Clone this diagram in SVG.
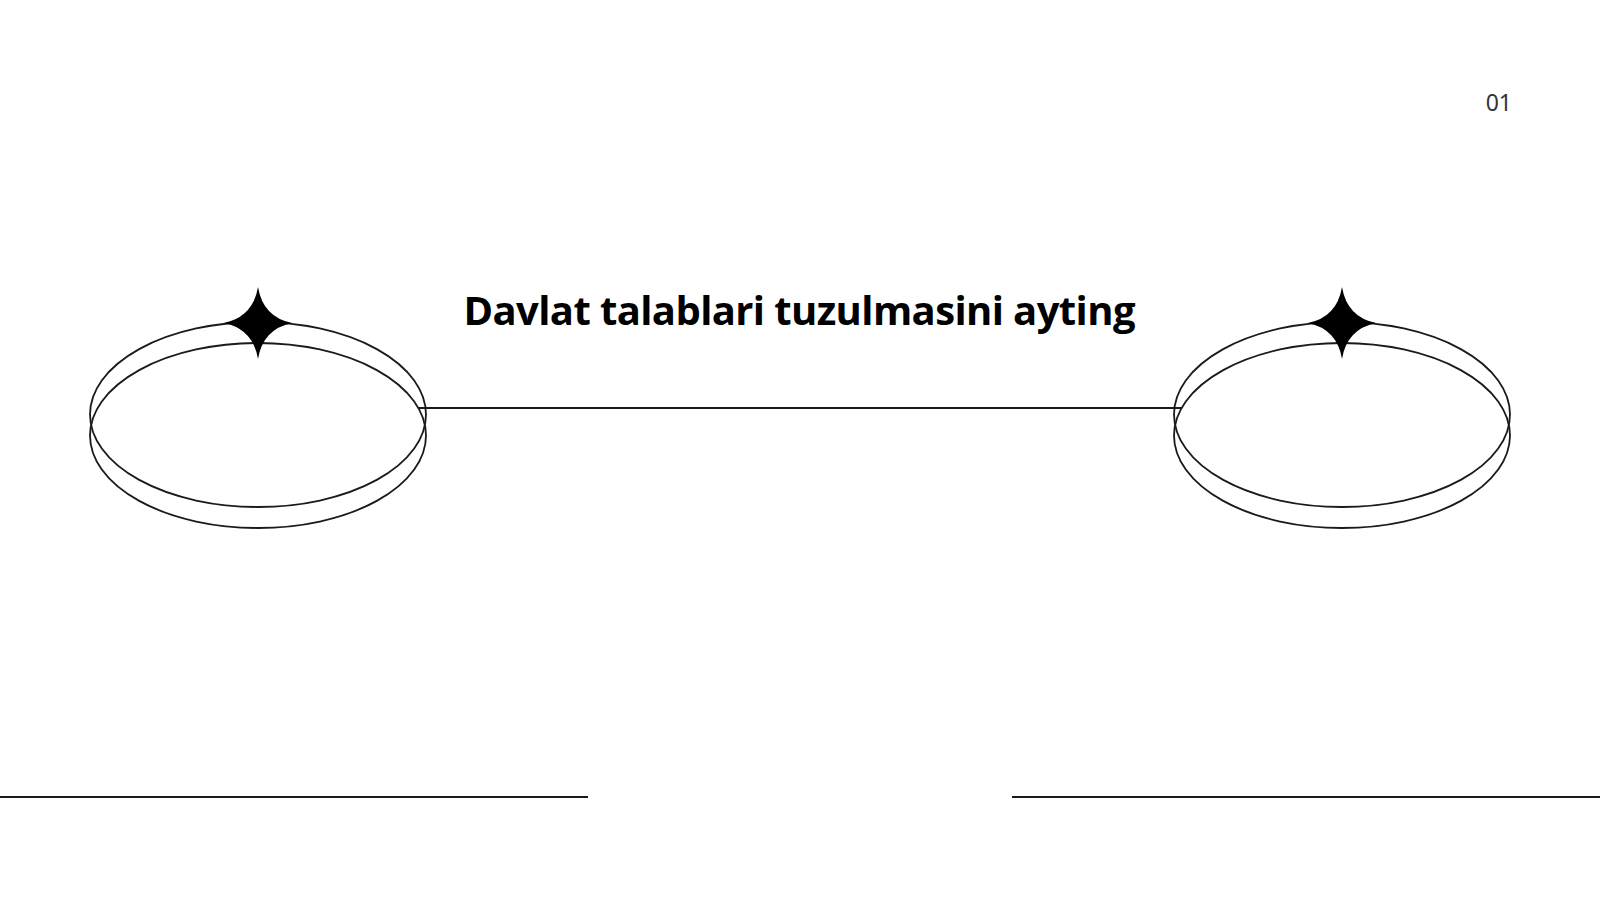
<svg xmlns="http://www.w3.org/2000/svg" width="1600" height="900" viewBox="0 0 1600 900">
<style>
.ring{fill:none;stroke:#1a1a1a;stroke-width:1.8}
.ln{stroke:#1a1a1a;stroke-width:2;fill:none}
.star{fill:#000}
.title{font-family:"Open Sans","Noto Sans",sans-serif;font-weight:700;font-size:40px;fill:#000}
.num{font-family:"Noto Sans","Open Sans",sans-serif;font-size:23px;fill:#333}
</style>
<defs>
<path id="star" d="M0,-36 Q5,-6 34,0 Q5,6 0,36 Q-5,6 -34,0 Q-5,-6 0,-36 Z"/>
</defs>
<rect width="1600" height="900" fill="#fff"/>
<g id="connectors">
<line class="ln" x1="418" y1="408" x2="1182" y2="408"/>
<line class="ln" x1="0" y1="797" x2="588" y2="797"/>
<line class="ln" x1="1012" y1="797" x2="1600" y2="797"/>
</g>
<g id="node-left">
<ellipse class="ring" cx="258" cy="414.5" rx="168" ry="92.5"/>
<ellipse class="ring" cx="258" cy="435.5" rx="168" ry="92.5"/>
<use href="#star" class="star" x="258" y="323"/>
</g>
<g id="node-right">
<ellipse class="ring" cx="1342" cy="414.5" rx="168" ry="92.5"/>
<ellipse class="ring" cx="1342" cy="435.5" rx="168" ry="92.5"/>
<use href="#star" class="star" x="1342" y="323"/>
</g>
<g id="title">
<text class="title" x="799.5" y="325" text-anchor="middle" textLength="672" lengthAdjust="spacing">Davlat talablari tuzulmasini ayting</text>
</g>
<g id="page-number">
<text class="num" x="1512" y="111" text-anchor="end">01</text>
</g>
</svg>
